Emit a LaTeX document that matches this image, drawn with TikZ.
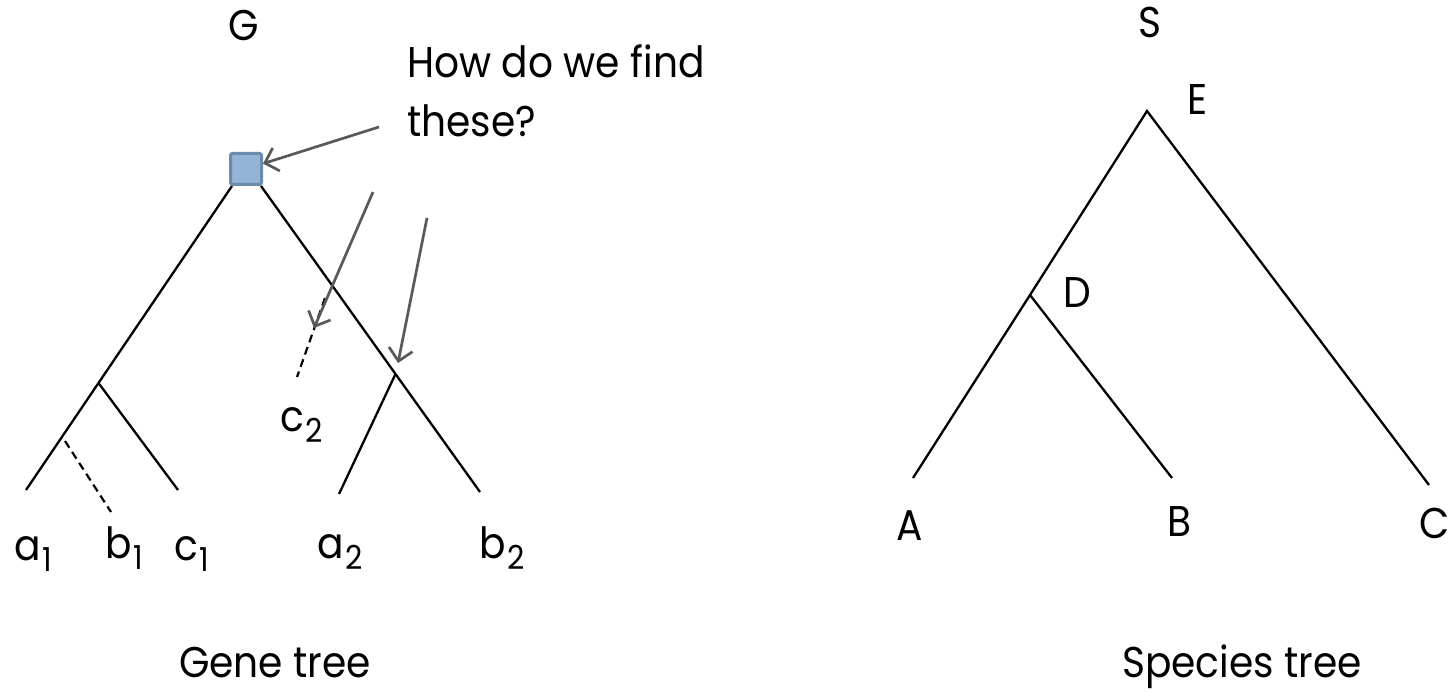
\documentclass[tikz,border=0pt]{standalone}
\usepackage{fontspec}
\setmainfont{Poppins}[FakeStretch=0.91]
\usetikzlibrary{arrows.meta}
\definecolor{arrgray}{RGB}{89,89,89}
\definecolor{sqfill}{RGB}{149,179,215}
\definecolor{sqedge}{RGB}{108,139,170}
\newcommand{\lsub}[1]{\hspace{2pt}\raisebox{-11pt}{\fontsize{33}{33}\selectfont #1}}
\begin{document}
\begin{tikzpicture}[x=1pt,y=-1pt,
  tree/.style={line width=2.3pt,black},
  dashline/.style={line width=2.2pt,black,dash pattern=on 8pt off 5pt},
  arr/.style={line width=2.7pt,arrgray,-{Straight Barb[length=12pt,width=24pt]}},
  sqbox/.style={draw=sqedge,fill=sqfill,line width=3pt,minimum size=31pt,inner sep=0pt,rounded corners=2pt},
  lbl/.style={font=\fontsize{43}{50}\selectfont,inner sep=0pt,anchor=base west}]
\useasboundingbox (0,0) rectangle (1450,692);
% ---------- gene tree ----------
\coordinate (rl) at (232,186);
\coordinate (rr) at (261,186);
\coordinate (n1) at (98.5,383);
\coordinate (la1) at (26,490);
\coordinate (lc1) at (178,490);
\coordinate (n2) at (395.5,374);
\coordinate (la2) at (339,494);
\coordinate (lb2) at (480,492);
\coordinate (b1top) at (65,441);
\coordinate (b1bot) at (111,512);
\coordinate (c2top) at (325,298);
\coordinate (c2bot) at (297,377);
\draw[tree] (la1) -- (n1) -- (rl);
\draw[tree] (n1) -- (lc1);
\draw[tree] (rr) -- (n2) -- (lb2);
\draw[tree] (n2) -- (la2);
\draw[dashline] (b1top) -- (b1bot);
\draw[dashline] (c2top) -- (c2bot);
\node[sqbox] (sq) at (246,169) {};
% arrows
\coordinate (s1) at (379,127);
\coordinate (s2) at (373,192);
\coordinate (t2) at (314,328);
\coordinate (s3) at (427,218);
\coordinate (t3) at (398,363);
\draw[arr] (s1) -- (sq);
\draw[arr] (s2) -- (t2);
\draw[arr] (s3) -- (t3);
% labels
\node[lbl] (tG) at (228,41) {G};
\node[lbl] (q1) at (407,78) {How do we find};
\node[lbl] (q2) at (407,137) {these?};
\node[lbl] (ta1) at (14,560) {a\lsub{1}};
\node[lbl] (tb1) at (105,558) {b\lsub{1}};
\node[lbl] (tc1) at (174,560) {c\lsub{1}};
\node[lbl] (tc2) at (280,431) {c\lsub{2}};
\node[lbl] (ta2) at (317,558) {a\lsub{2}};
\node[lbl] (tb2) at (479,558) {b\lsub{2}};
\node[lbl,anchor=base] (gt) at (275,677) {Gene tree};
% ---------- species tree ----------
\coordinate (sE) at (1147,111);
\coordinate (sD) at (1030,295);
\coordinate (sA) at (913,478);
\coordinate (sB) at (1172,478);
\coordinate (sC) at (1429,485);
\draw[tree] (sA) -- (sD) -- (sE) -- (sC);
\draw[tree] (sD) -- (sB);
\node[lbl] (tS) at (1138,38) {S};
\node[lbl] (tE) at (1187,115) {E};
\node[lbl] (tD) at (1063,308) {D};
\node[lbl,anchor=base] (tA) at (910,540) {A};
\node[lbl] (tB) at (1167,536) {B};
\node[lbl] (tC) at (1419,538) {C};
\node[lbl] (st) at (1122,677) {Species tree};
\end{tikzpicture}
\end{document}
